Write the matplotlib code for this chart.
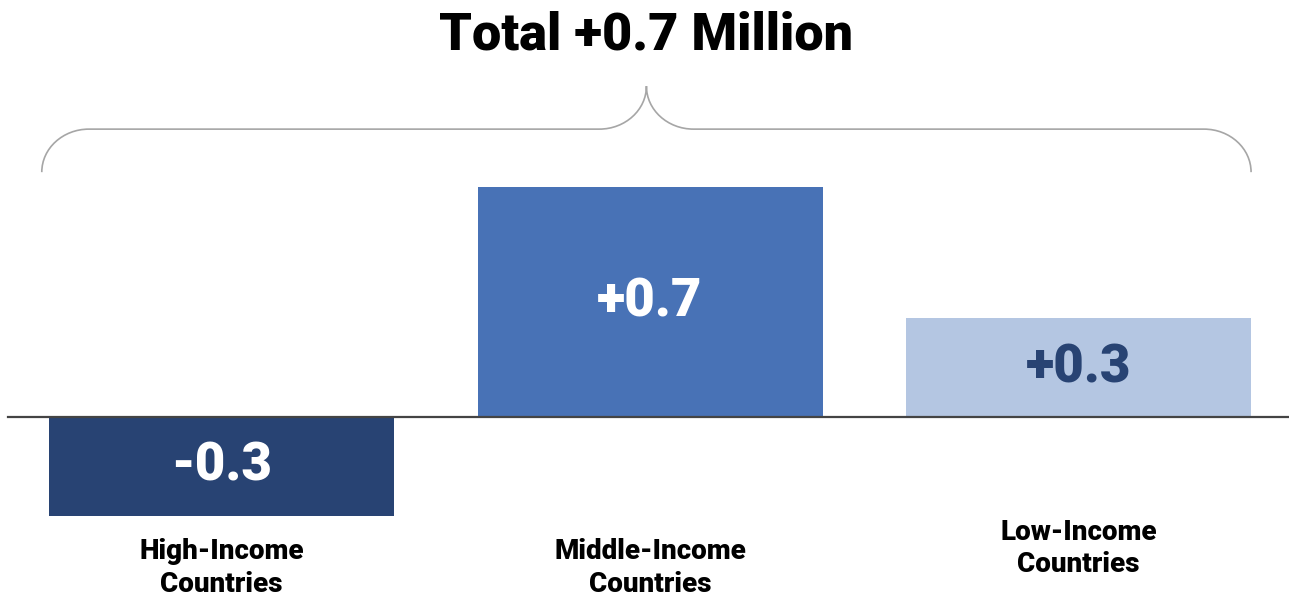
import matplotlib
matplotlib.use("Agg")
import matplotlib.pyplot as plt
from matplotlib.path import Path
from matplotlib.patches import PathPatch

plt.rcParams['font.family'] = ['Roboto', 'DejaVu Sans']

# change in millions, by income group
groups = ["High-Income\nCountries", "Middle-Income\nCountries", "Low-Income\nCountries"]
changes = [-0.3, 0.7, 0.3]
bar_colors = ["#284373", "#4872B6", "#B4C6E2"]
label_colors = ["white", "white", "#284373"]

fig = plt.figure(figsize=(12.89, 5.96), dpi=100)
ax = fig.add_axes([0, 0, 1, 1])
ax.set_xlim(-0.517, 2.491)
ax.set_ylim(-0.545, 1.269)
ax.axis("off")

xs = list(range(len(groups)))
width = 0.805
bars = ax.bar(xs, changes, width=width, color=bar_colors, zorder=2)

# zero line
ax.axhline(0, xmin=8 / 1289, xmax=1, color="#444444", lw=1.6, zorder=3)

# value labels in the middle of each bar
for x, v, c in zip(xs, changes, label_colors):
    ax.text(x, v / 2, f"{v:+.1f}", ha="center", va="center", color=c,
            fontsize=38, fontweight="black")

# category names under the bars (low-income sits a bit higher)
name_y = [-0.46, -0.46, -0.40]
for x, name, y in zip(xs, groups, name_y):
    ax.text(x, y, name, ha="center", va="center", fontsize=20,
            fontweight="black", linespacing=1.25)

# curly brace over all three bars
x0 = xs[0] - width / 2 - 0.017
x1 = xs[-1] + width / 2
xc = (x0 + x1) / 2
ye, ym = 0.745, 0.876
rx, ry = 0.11, 0.131
k = 0.5523
verts = [
    (x0, ye),
    (x0, ye + k * ry), (x0 + rx - k * rx, ym), (x0 + rx, ym),
    (xc - rx, ym),
    (xc - rx + k * rx, ym), (xc, ym + ry - k * ry), (xc, ym + ry),
    (xc, ym + ry - k * ry), (xc + rx - k * rx, ym), (xc + rx, ym),
    (x1 - rx, ym),
    (x1 - rx + k * rx, ym), (x1, ye + k * ry), (x1, ye),
]
codes = [Path.MOVETO,
         Path.CURVE4, Path.CURVE4, Path.CURVE4,
         Path.LINETO,
         Path.CURVE4, Path.CURVE4, Path.CURVE4,
         Path.CURVE4, Path.CURVE4, Path.CURVE4,
         Path.LINETO,
         Path.CURVE4, Path.CURVE4, Path.CURVE4]
ax.add_patch(PathPatch(Path(verts, codes), facecolor="none",
                       edgecolor="#A6A6A6", lw=1.2))

total = sum(changes)
fig.text(646 / 1289, 1 - 36 / 596, f"Total {total:+.1f} Million", ha="center",
         va="center", fontsize=37.5, fontweight="black")

fig.savefig("out.png", dpi=100, facecolor="white")
